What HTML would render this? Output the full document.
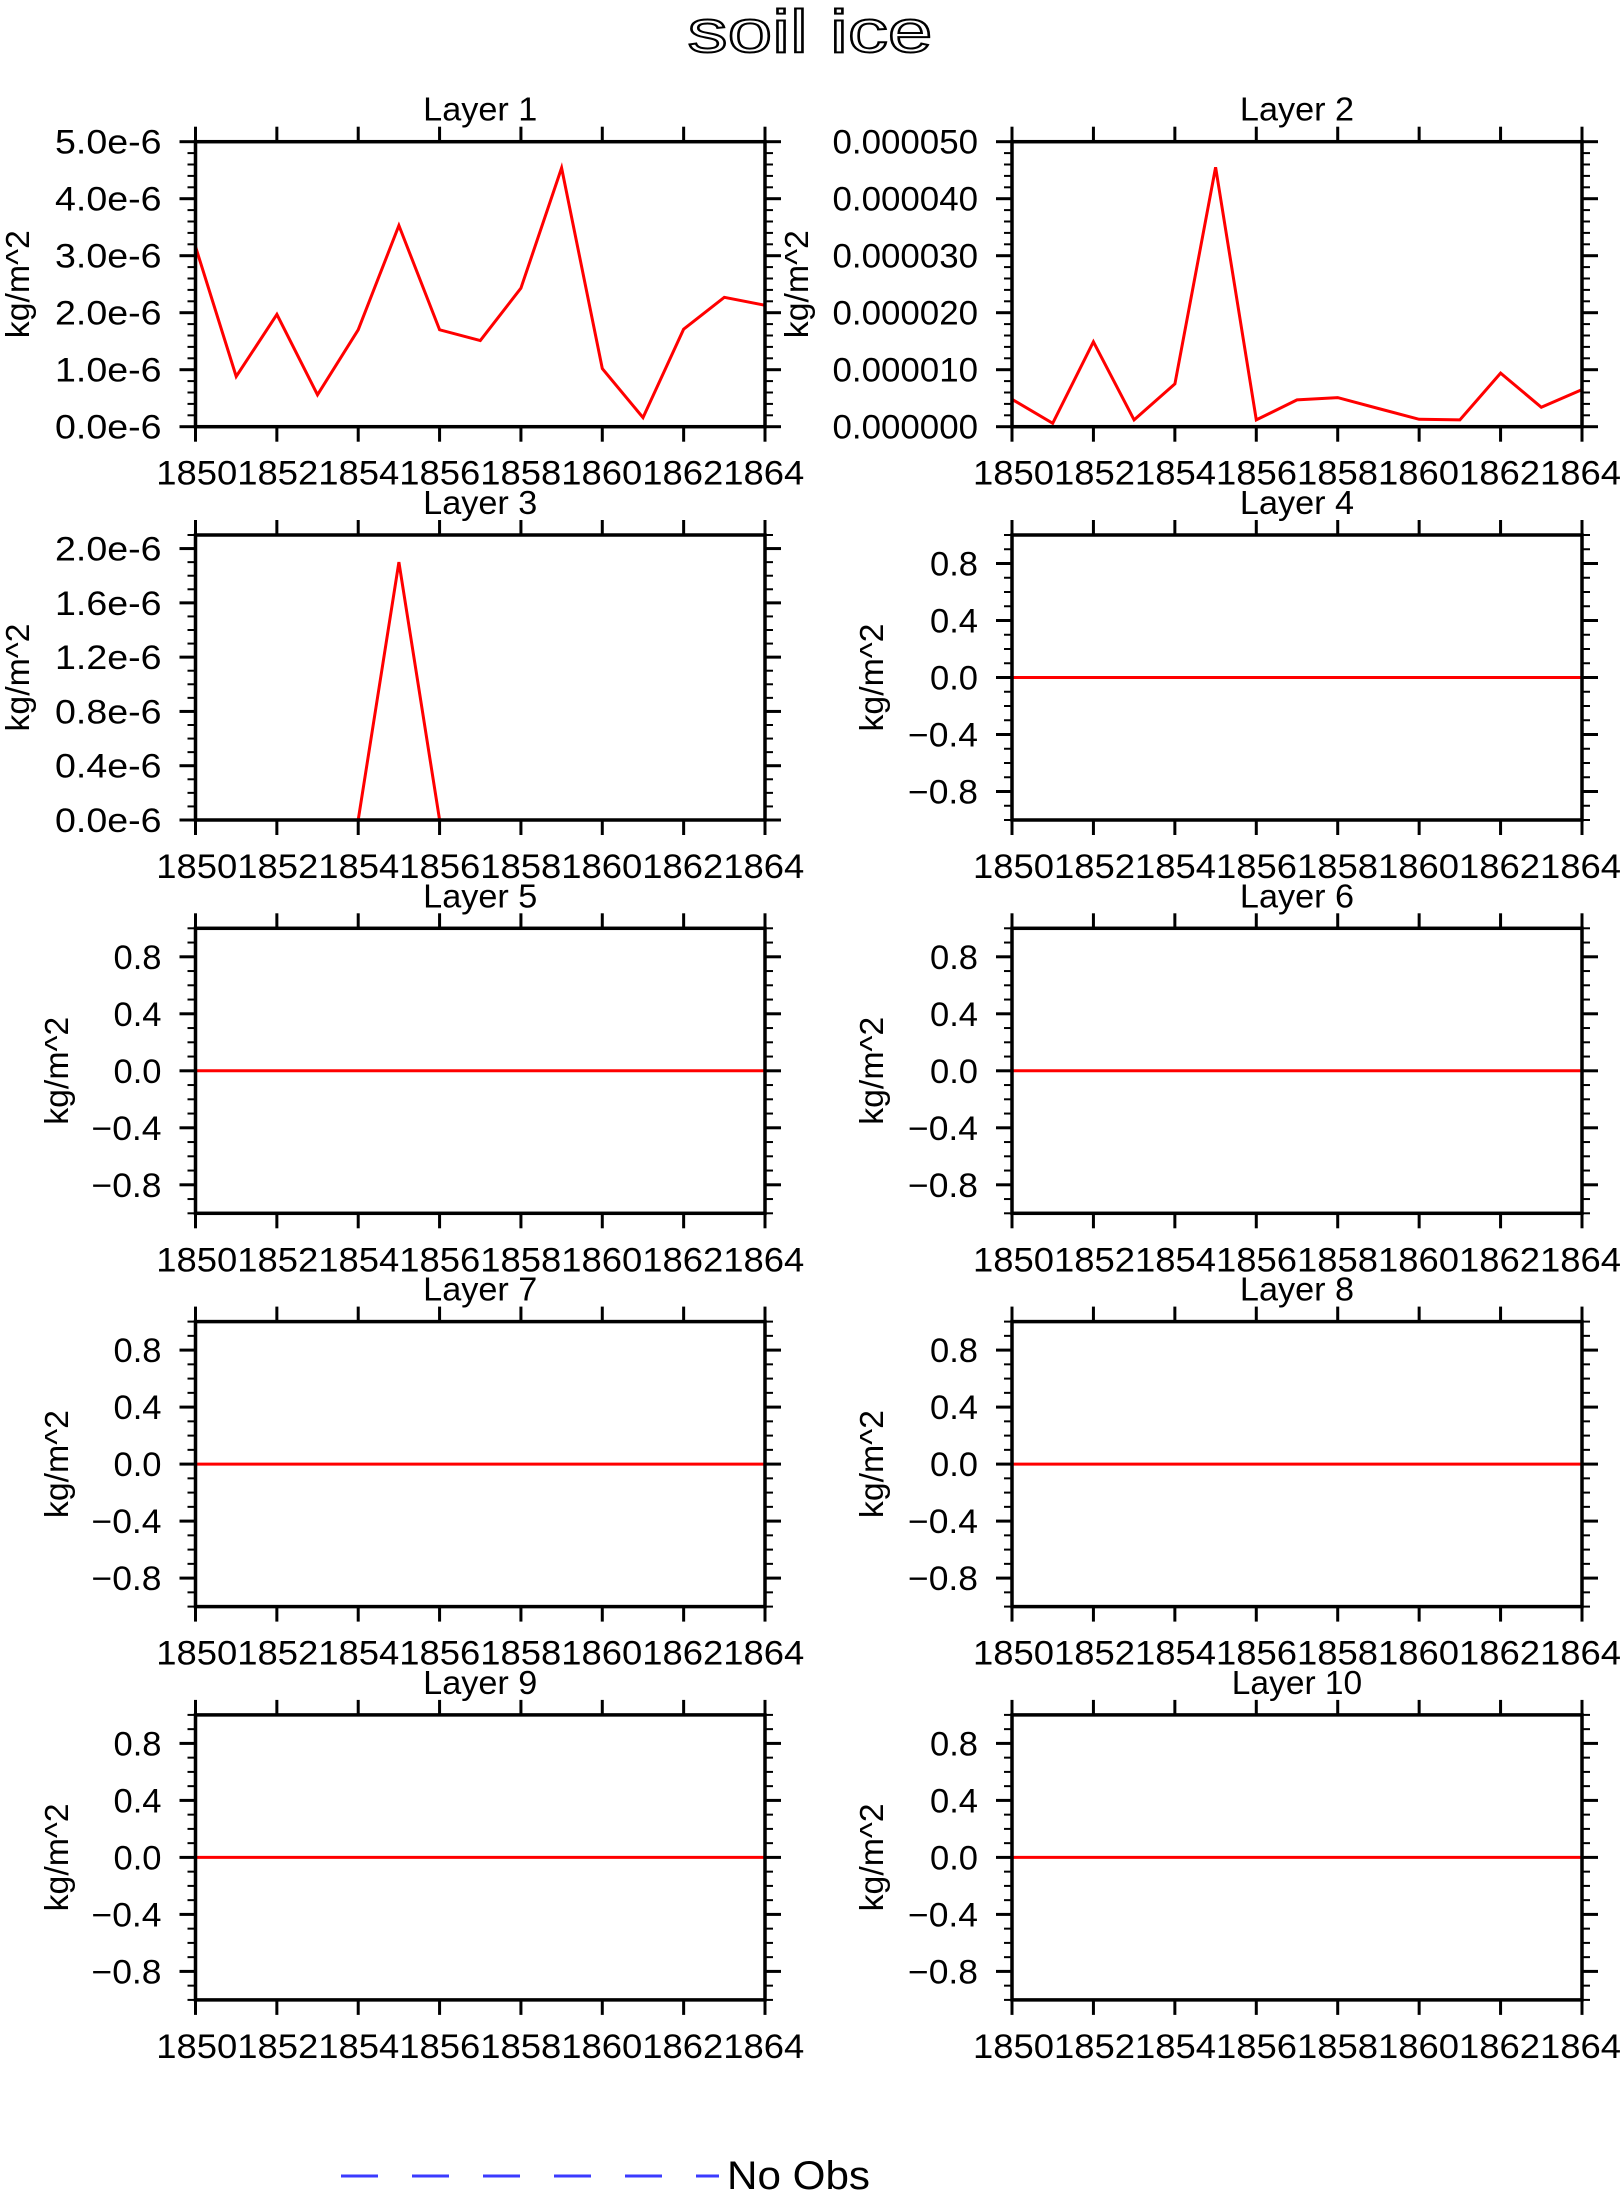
<!DOCTYPE html>
<html><head><meta charset="utf-8"><style>
html,body{margin:0;padding:0;background:#fff;}
svg{display:block;font-family:"Liberation Sans",sans-serif;}
</style></head><body>
<svg id="fig" width="1620" height="2191" viewBox="0 0 1620 2191" xmlns="http://www.w3.org/2000/svg">
<rect width="1620" height="2191" fill="#fff"/>
<text x="810" y="52" font-size="60" text-anchor="middle" textLength="245" lengthAdjust="spacingAndGlyphs" fill="#fff" stroke="#000" stroke-width="2">soil ice</text>
<g id="panels"></g>
<g>
<line x1="341" y1="2176" x2="719" y2="2176" stroke="#3b3bff" stroke-width="3" stroke-dasharray="37 34"/>
<text x="727" y="2189" font-size="40" textLength="143" lengthAdjust="spacingAndGlyphs">No Obs</text>
</g>
</svg>
<script>
const years = [1850,1851,1852,1853,1854,1855,1856,1857,1858,1859,1860,1861,1862,1863,1864];
const xTickYears = [1850,1852,1854,1856,1858,1860,1862,1864];
const layer1 = [3.16e-6,0.88e-6,1.97e-6,0.56e-6,1.70e-6,3.53e-6,1.70e-6,1.51e-6,2.43e-6,4.54e-6,1.02e-6,0.16e-6,1.71e-6,2.27e-6,2.13e-6];
const layer2 = [4.8e-6,0.6e-6,14.9e-6,1.2e-6,7.5e-6,45.5e-6,1.2e-6,4.7e-6,5.1e-6,3.2e-6,1.3e-6,1.2e-6,9.4e-6,3.4e-6,6.5e-6];
const layer3 = [0,0,0,0,0,1.90e-6,0,0,0,0,0,0,0,0,0];
const zeros = [0,0,0,0,0,0,0,0,0,0,0,0,0,0,0];
const ticks1 = ["0.0e-6","1.0e-6","2.0e-6","3.0e-6","4.0e-6","5.0e-6"];
const ticks2 = ["0.000000","0.000010","0.000020","0.000030","0.000040","0.000050"];
const ticks3 = ["0.0e-6","0.4e-6","0.8e-6","1.2e-6","1.6e-6","2.0e-6"];
const ticksZ = ["\u22120.8","\u22120.4","0.0","0.4","0.8"];
const vals1 = [0,1e-6,2e-6,3e-6,4e-6,5e-6];
const vals2 = [0,1e-5,2e-5,3e-5,4e-5,5e-5];
const vals3 = [0,0.4e-6,0.8e-6,1.2e-6,1.6e-6,2.0e-6];
const valsZ = [-0.8,-0.4,0,0.4,0.8];

const NS="http://www.w3.org/2000/svg";
const root=document.getElementById('panels');
function mk(tag,attrs,parent){const e=document.createElementNS(NS,tag);for(const k in attrs)e.setAttribute(k,attrs[k]);parent.appendChild(e);return e;}
function lw(s){let w=0;for(const c of s){if(c==='.')w+=9;else if(c==='\u2212')w+=22;else w+=19.5;}return w;}

const panels=[
 {title:"Layer 1",data:layer1,ymin:0,ymax:5e-6,tl:ticks1,tv:vals1,minor:1e-6/5},
 {title:"Layer 2",data:layer2,ymin:0,ymax:5e-5,tl:ticks2,tv:vals2,minor:1e-5/5},
 {title:"Layer 3",data:layer3,ymin:0,ymax:2.1e-6,tl:ticks3,tv:vals3,minor:0.4e-6/4},
];
for(let i=4;i<=10;i++)panels.push({title:"Layer "+i,data:zeros,ymin:-1,ymax:1,tl:ticksZ,tv:valsZ,minor:0.1});

panels.forEach((p,i)=>{
  const col=i%2,row=Math.floor(i/2);
  const L=col?1012:195.5,R=col?1582:765,T=141.7+row*393.3,B=T+285;
  const g=mk('g',{},root);
  
  
  const xs=v=>L+(v-1850)/14*(R-L);
  const ys=v=>B-(v-p.ymin)/(p.ymax-p.ymin)*(B-T);
  const t=mk('text',{x:(L+R)/2,y:T-21,'font-size':33,'text-anchor':'middle',textLength:p.title.length*16.3,lengthAdjust:'spacingAndGlyphs'},g);
  
  
  t.textContent=p.title;
  const n=Math.round((p.ymax-p.ymin)/p.minor);
  for(let k=0;k<=n;k++){const v=p.ymin+k*p.minor;const y=ys(v);
    mk('line',{x1:L-8,y1:y,x2:L,y2:y,stroke:'#000','stroke-width':2},g);
    mk('line',{x1:R,y1:y,x2:R+8,y2:y,stroke:'#000','stroke-width':2},g);}
  p.tv.forEach((v,k)=>{const y=ys(v);
    mk('line',{x1:L-16,y1:y,x2:L,y2:y,stroke:'#000','stroke-width':3},g);
    mk('line',{x1:R,y1:y,x2:R+16,y2:y,stroke:'#000','stroke-width':3},g);
    const lab=mk('text',{x:L-34,y:y+12,'font-size':34,'text-anchor':'end',textLength:lw(p.tl[k]),lengthAdjust:'spacingAndGlyphs'},g);
    
    
    lab.textContent=p.tl[k];});
  xTickYears.forEach(yr=>{const x=xs(yr);
    mk('line',{x1:x,y1:T-15,x2:x,y2:T,stroke:'#000','stroke-width':3},g);
    mk('line',{x1:x,y1:B,x2:x,y2:B+15,stroke:'#000','stroke-width':3},g);});
  const xl=mk('text',{x:(L+R)/2,y:B+58,'font-size':34,'text-anchor':'middle',textLength:648,lengthAdjust:'spacingAndGlyphs'},g);
  
  
  xl.textContent=xTickYears.join('');
  const tx=(i===0||i===2)?18:(i===1?797:(col?872:57));
  const yt=mk('text',{x:tx,y:(T+B)/2,'font-size':33,'text-anchor':'middle',transform:`rotate(-90 ${tx} ${(T+B)/2}) translate(0 11)`,textLength:108,lengthAdjust:'spacingAndGlyphs'},g);
  
  
  yt.textContent='kg/m^2';
  const pts=p.data.map((v,k)=>xs(years[k]).toFixed(1)+','+ys(v).toFixed(1)).join(' ');
  const pl=mk('polyline',{points:pts,fill:'none',stroke:'#ff0000','stroke-width':3,'stroke-linejoin':'miter'},g);
  
  
  const fr=mk('rect',{x:L,y:T,width:R-L,height:B-T,fill:'none',stroke:'#000','stroke-width':3.5},g);
  
  
});
</script>
</body></html>
